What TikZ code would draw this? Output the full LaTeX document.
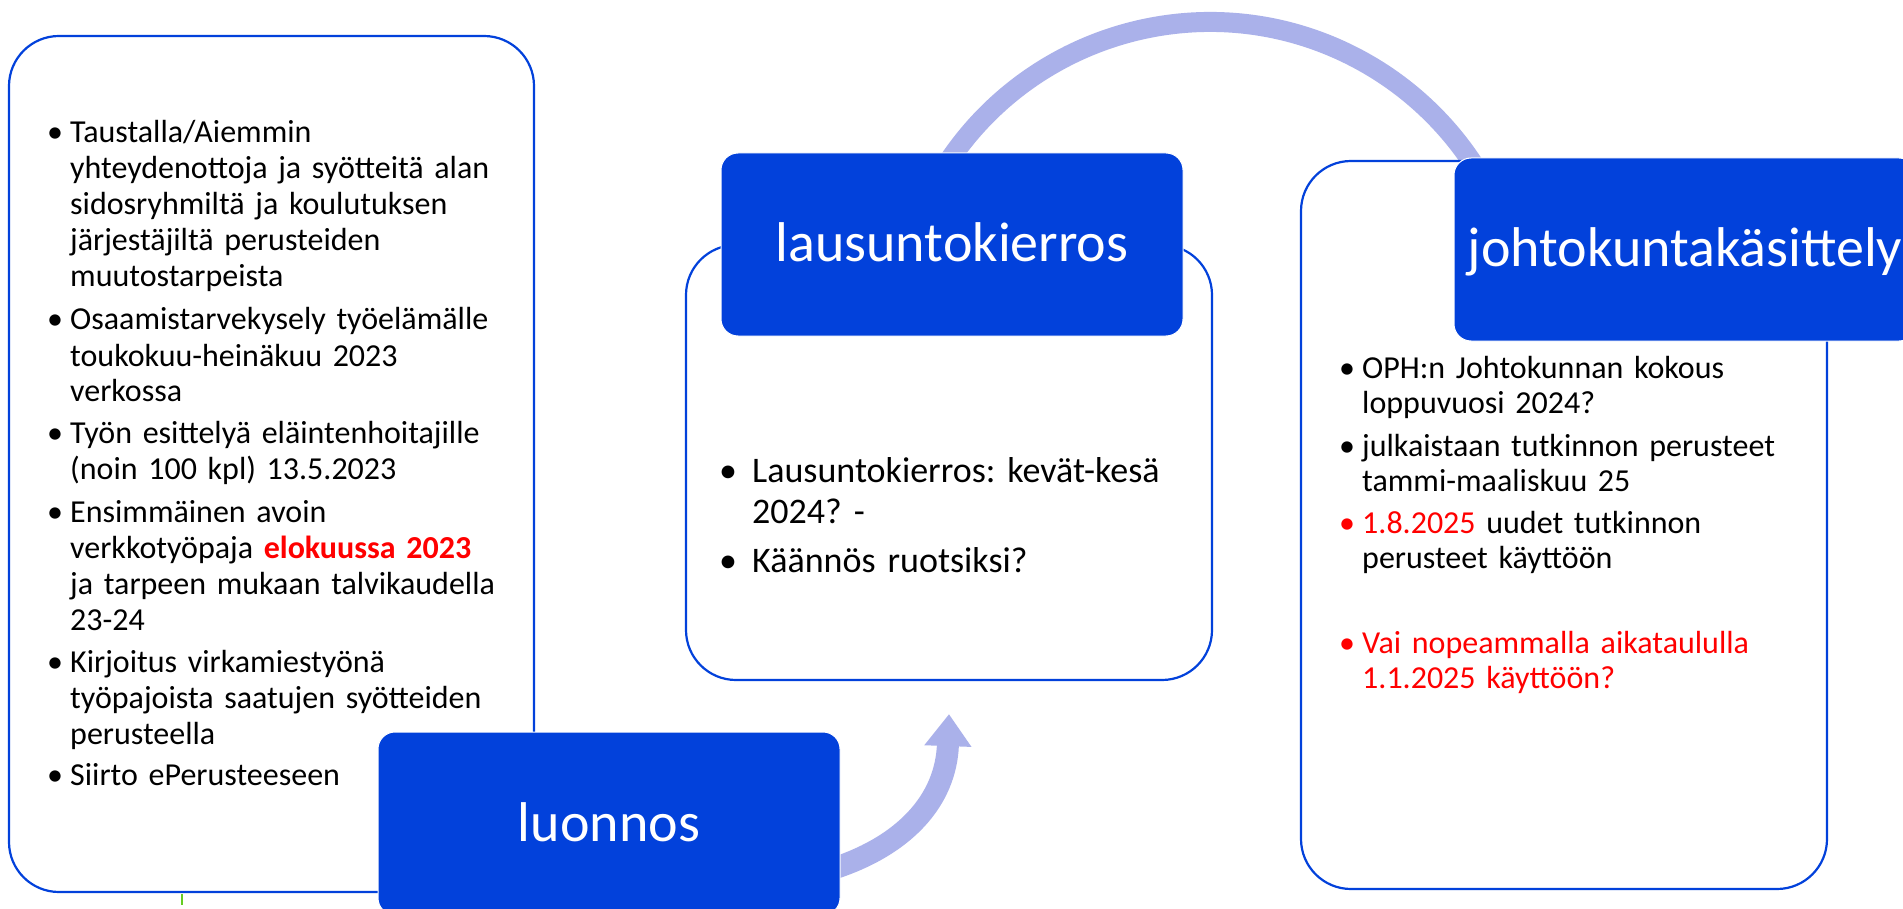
\documentclass[tikz,border=0pt]{standalone}
\usepackage{fontspec}
\setmainfont{Carlito}
\frenchspacing
\usetikzlibrary{arrows.meta}
\definecolor{boxblue}{RGB}{2,65,219}
\definecolor{arcblue}{RGB}{170,177,234}
\definecolor{txtred}{RGB}{255,0,0}
\definecolor{tinygreen}{RGB}{102,204,34}
\pgfdeclarelayer{back}
\pgfsetlayers{back,main}
\tikzset{
  panel/.style={draw=boxblue, line width=2.2pt, fill=white, rounded corners=50pt, inner sep=0pt},
  titlebox/.style={fill=boxblue, draw=white, line width=1pt, rounded corners=17pt,
    minimum width=462pt, minimum height=183pt, inner sep=0pt, text=white,
    font=\fontsize{56}{62}\selectfont, text height=35pt, text depth=0pt},
  bodyL/.style={anchor=base west, inner sep=0pt, align=left, text width=480pt,
    font=\fontsize{32}{36}\selectfont},
  bodyR/.style={anchor=base west, inner sep=0pt, align=left, text width=480pt,
    font=\fontsize{32}{35.5}\selectfont},
  bodyM/.style={anchor=base west, inner sep=0pt, align=left, text width=480pt,
    font=\fontsize{36}{41}\selectfont},
  bulL/.style={anchor=base, inner sep=0pt, font=\fontsize{32}{36}\selectfont},
  bulR/.style={anchor=base, inner sep=0pt, font=\fontsize{32}{36}\selectfont},
  bulM/.style={anchor=base, inner sep=0pt, font=\fontsize{36}{41}\selectfont},
  arcline/.style={draw=arcblue, line width=20pt},
  upflow/.style={draw=arcblue, line width=22pt, -{Triangle[width=45pt,length=32pt]}},
}
\begin{document}
\begin{tikzpicture}[x=1pt,y=-1pt]
\useasboundingbox (0,0) rectangle (1903,909);
\clip (0,0) rectangle (1903,909);
\begin{pgfonlayer}{back}
\fill[white] (0,0) rectangle (1903,909);
\end{pgfonlayer}

% big arc from lausuntokierros to johtokuntakasittely
\coordinate (arcC) at (1210,337);
\coordinate (arcS) at ([shift={(-152:315)}]arcC);
\draw[arcline] (arcS) arc[start angle=-152, end angle=-28, radius=315];

% panels
\node[panel, minimum width=525pt, minimum height=856pt] (leftpanel) at (271.5,464) {};
\node[panel, minimum width=526pt, minimum height=435pt] (midpanel) at (949,462.5) {};
\node[panel, minimum width=526pt, minimum height=728pt] (rightpanel) at (1564,525) {};

% tiny green mark
\coordinate (gA) at (182,894);
\coordinate (gB) at (182,905);
\draw[tinygreen, line width=2pt] (gA) -- (gB);

% title boxes
\node[titlebox] (luonnos) at (609,823.5) {luonnos};
\node[titlebox] (lausunto) at (952,244.5) {lausuntokierros};
\node[titlebox] (johto) at (1685,249.5) {johtokuntakäsittely};

% up arrow from luonnos (behind the box)
\coordinate (arrowtip) at ([yshift=-33pt]midpanel.south);
\begin{pgfonlayer}{back}
\draw[upflow] ([xshift=-10pt,yshift=-46pt]luonnos.east) .. controls (905,846) and (946,800) .. (arrowtip);
\end{pgfonlayer}

% left panel text
\node[bulL] (lb1) at (55,143) {•};
\node[bodyL] (lt1) at (70,143) {Taustalla/Aiemmin\\yhteydenottoja ja syötteitä alan\\sidosryhmiltä ja koulutuksen\\järjestäjiltä perusteiden\\muutostarpeista};
\node[bulL] (lb2) at (55,330) {•};
\node[bodyL] (lt2) at (70,330) {Osaamistarvekysely työelämälle\\toukokuu-heinäkuu 2023\\verkossa};
\node[bulL] (lb3) at (55,443) {•};
\node[bodyL] (lt3) at (70,443) {Työn esittelyä eläintenhoitajille\\(noin 100 kpl) 13.5.2023};
\node[bulL] (lb4) at (55,522) {•};
\node[bodyL] (lt4) at (70,522) {Ensimmäinen avoin\\verkkotyöpaja {\bfseries\color{txtred}elokuussa 2023}\\ja tarpeen mukaan talvikaudella\\23-24};
\node[bulL] (lb5) at (55,672) {•};
\node[bodyL] (lt5) at (70,672) {Kirjoitus virkamiestyönä\\työpajoista saatujen syötteiden\\perusteella};
\node[bulL] (lb6) at (55,785) {•};
\node[bodyL] (lt6) at (70,785) {Siirto ePerusteeseen};

% middle panel text
\node[bulM] (mb1) at (728,482) {•};
\node[bodyM] (mt1) at (752,482) {Lausuntokierros: kevät-kesä\\2024? -};
\node[bulM] (mb2) at (728,572) {•};
\node[bodyM] (mt2) at (752,572) {Käännös ruotsiksi?};

% right panel text
\node[bulR] (rb1) at (1347,378) {•};
\node[bodyR] (rt1) at (1362,378) {OPH:n Johtokunnan kokous\\loppuvuosi 2024?};
\node[bulR] (rb2) at (1347,456) {•};
\node[bodyR] (rt2) at (1362,456) {julkaistaan tutkinnon perusteet\\tammi-maaliskuu 25};
\node[bulR, text=txtred] (rb3) at (1347,533) {•};
\node[bodyR] (rt3) at (1362,533) {{\color{txtred}1.8.2025} uudet tutkinnon\\perusteet käyttöön};
\node[bulR, text=txtred] (rb4) at (1347,653) {•};
\node[bodyR, text=txtred] (rt4) at (1362,653) {Vai nopeammalla aikataululla\\1.1.2025 käyttöön?};
\end{tikzpicture}
\end{document}
